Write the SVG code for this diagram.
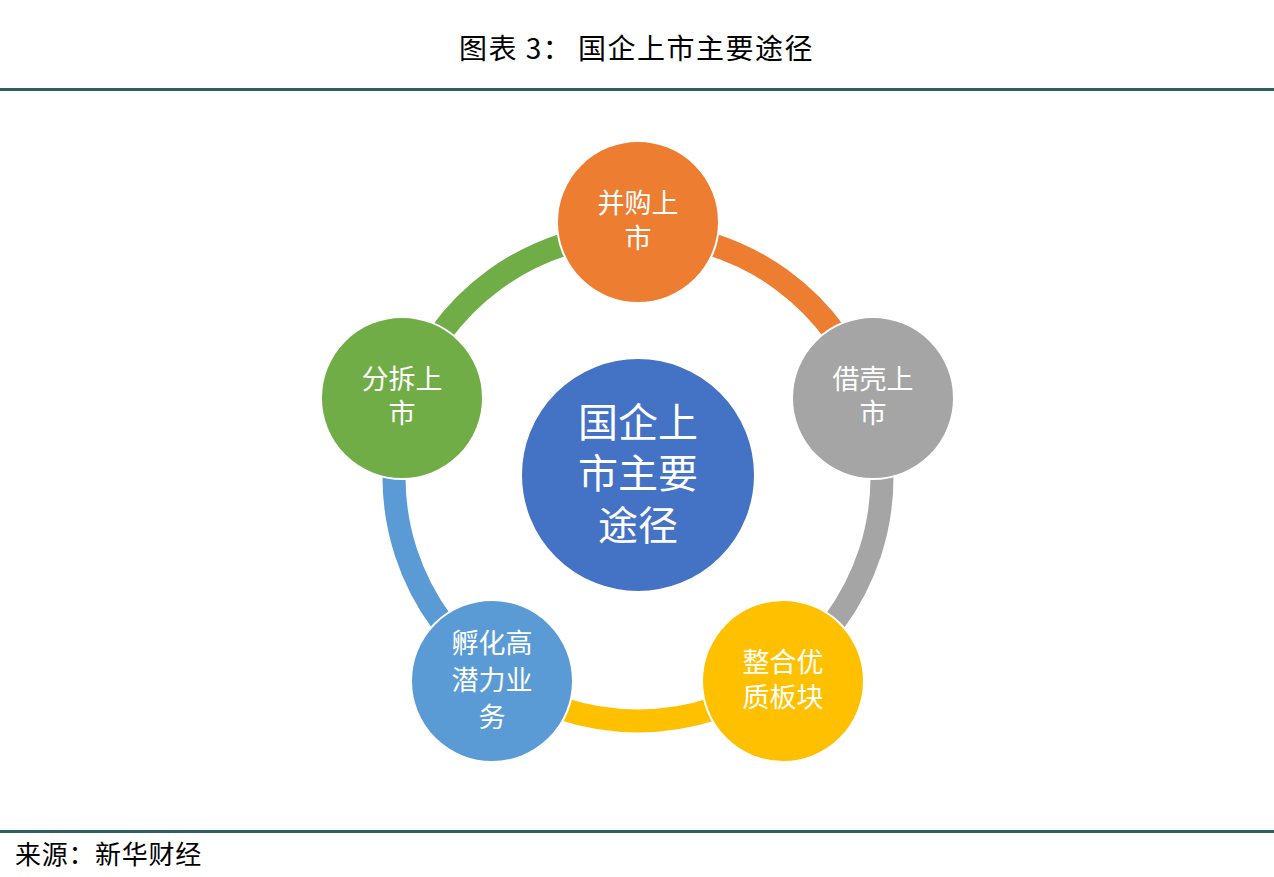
<svg xmlns="http://www.w3.org/2000/svg" width="1274" height="877" viewBox="0 0 1274 877">
<style>
.t{font-family:"Noto Sans CJK SC","Noto Sans",sans-serif;fill:#000}
.lbl{font-family:"Liberation Sans","Noto Sans CJK SC",sans-serif;fill:#fff;font-size:27px;text-anchor:middle}
.big{font-size:40px}
.node{stroke:#fff;stroke-width:2}
.arc{fill:none;stroke-width:23}
</style>
<rect width="1274" height="877" fill="#fff"/>
<g id="header">
<text class="t" x="459" y="59" font-size="28" letter-spacing="1.5">图表 3：<tspan x="578">国企上市主要途径</tspan></text>
<rect x="0" y="88" width="1274" height="3" fill="#2E5E66"/>
</g>
<g id="connectors">
<path class="arc" stroke="#ED7D31" d="M638 233 A244 244 0 0 1 870.06 401.6"/>
<path class="arc" stroke="#A5A5A5" d="M870.06 401.6 A244 244 0 0 1 781.42 674.4"/>
<path class="arc" stroke="#FFC000" d="M781.42 674.4 A244 244 0 0 1 494.58 674.4"/>
<path class="arc" stroke="#5B9BD5" d="M494.58 674.4 A244 244 0 0 1 405.94 401.6"/>
<path class="arc" stroke="#70AD47" d="M405.94 401.6 A244 244 0 0 1 638 233"/>
</g>
<g id="center">
<circle class="node" cx="638" cy="475" r="117" fill="#4472C4"/>
<text class="lbl big" x="638" y="437">国企上<tspan x="638" dy="51">市主要</tspan><tspan x="638" dy="52">途径</tspan></text>
</g>
<g id="n1">
<circle class="node" cx="638" cy="222" r="81" fill="#ED7D31"/>
<text class="lbl" x="638" y="213">并购上<tspan x="638" dy="35">市</tspan></text>
</g>
<g id="n2">
<circle class="node" cx="873" cy="398" r="81" fill="#A5A5A5"/>
<text class="lbl" x="873" y="389">借壳上<tspan x="873" dy="34">市</tspan></text>
</g>
<g id="n3">
<circle class="node" cx="783" cy="681" r="81" fill="#FFC000"/>
<text class="lbl" x="783" y="672">整合优<tspan x="783" dy="35">质板块</tspan></text>
</g>
<g id="n4">
<circle class="node" cx="492" cy="681" r="81" fill="#5B9BD5"/>
<text class="lbl" x="492" y="653">孵化高<tspan x="492" dy="37">潜力业</tspan><tspan x="492" dy="37">务</tspan></text>
</g>
<g id="n5">
<circle class="node" cx="402" cy="398" r="81" fill="#70AD47"/>
<text class="lbl" x="402" y="389">分拆上<tspan x="402" dy="34">市</tspan></text>
</g>
<g id="footer">
<rect x="0" y="830" width="1274" height="3" fill="#2E5E66"/>
<text class="t" x="15" y="864" font-size="26" letter-spacing="0.7">来源：新华财经</text>
</g>
</svg>
